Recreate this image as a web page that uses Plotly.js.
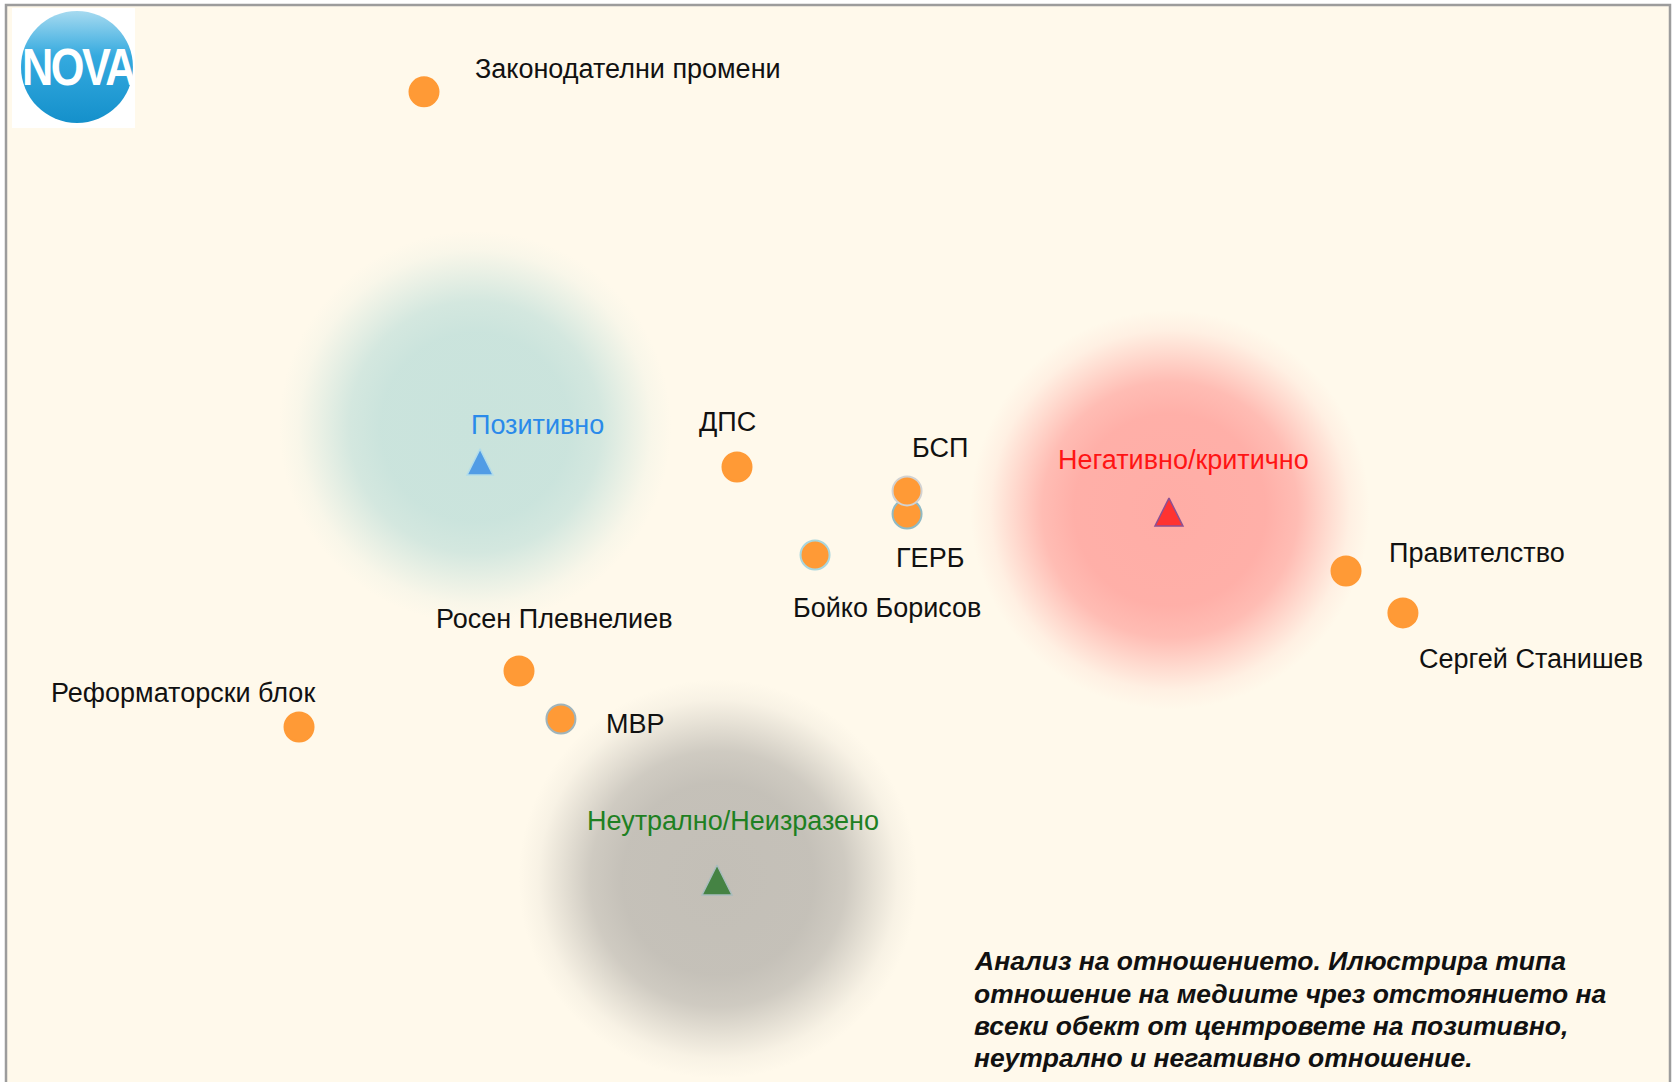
<!DOCTYPE html>
<html>
<head>
<meta charset="utf-8">
<script src="https://cdn.plot.ly/plotly-3.0.1.min.js"></script>
<style>html,body{margin:0;padding:0;background:#fff;}#chart{width:1675px;height:1082px;}</style>
</head>
<body>
<div id="chart"></div>
<script>
// ---- data (map units; x 0..100, y 0..64.72, equal scale) ----
const objectNames = ['Законодателни промени','ДПС','ГЕРБ','БСП','Бойко Борисов','Правителство','Сергей Станишев','Росен Плевнелиев','МВР','Реформаторски блок'];
const objectX = [25.12, 43.93, 54.15, 54.15, 48.62, 80.53, 83.95, 30.83, 33.35, 17.61];
const objectY = [59.50, 36.96, 34.13, 35.52, 31.67, 30.71, 28.19, 24.70, 21.81, 21.33];

const centerNames = ['Позитивно','Негативно/критично','Неутрално/Неизразено'];
const centerX = [28.49, 69.89, 42.73];
const centerY = [37.26, 34.25, 12.14];

const zoneX = [28.19, 69.95, 42.79];
const zoneY = [39.36, 34.38, 12.20];
const zoneR = [11.8, 12.0, 12.0];

const noteLines = ['Анализ на отношението. Илюстрира типа','отношение на медиите чрез отстоянието на','всеки обект от центровете на позитивно,','неутрално и негативно отношение.'];

// ---- styles ----
const ORANGE = '#FF9A36';
const objLine = [ORANGE, ORANGE, '#8FBAC4', '#D2D2D2', '#A9D6DE', ORANGE, ORANGE, ORANGE, '#9FB4BC', ORANGE];
const objLabelStyle = [
  {a:'left', dx:49, dy:23}, {a:'center', dx:-10, dy:45}, {a:'center', dx:23, dy:-44},
  {a:'center', dx:33, dy:43}, {a:'center', dx:72, dy:-53}, {a:'left', dx:41, dy:18},
  {a:'left', dx:14, dy:-46}, {a:'center', dx:35, dy:52}, {a:'left', dx:43, dy:-5},
  {a:'center', dx:-116, dy:34}
];
const centerFill = ['#1F7FEA', '#FF0000', '#106A14'];
const centerLine = ['#A8DAF0', '#5E2A8C', '#9FBCC2'];
const centerSize = [26, 28, 30];
const centerText = ['#2A8AEA', '#FF1414', '#1E8022'];
const centerLabelStyle = [{dx:57, dy:37}, {dx:15, dy:52}, {dx:16, dy:59}];
const zoneColor = ['#C9E3DC', '#FFADA6', '#C3BFB7'];

const FONT = 'Liberation Sans, Arial, sans-serif';

function blobSvg(c){
  const s = "<svg xmlns='http://www.w3.org/2000/svg' width='400' height='400'><defs><radialGradient id='g' cx='0.5' cy='0.5' r='0.5'>" +
    "<stop offset='0' stop-color='"+c+"' stop-opacity='1'/>" +
    "<stop offset='0.48' stop-color='"+c+"' stop-opacity='0.97'/>" +
    "<stop offset='0.64' stop-color='"+c+"' stop-opacity='0.8'/>" +
    "<stop offset='0.79' stop-color='"+c+"' stop-opacity='0.4'/>" +
    "<stop offset='0.9' stop-color='"+c+"' stop-opacity='0.12'/>" +
    "<stop offset='1' stop-color='"+c+"' stop-opacity='0'/>" +
    "</radialGradient></defs><circle cx='200' cy='200' r='200' fill='url(#g)'/></svg>";
  return 'data:image/svg+xml;charset=utf-8,' + encodeURIComponent(s);
}
function logoSvg(){
  const s = "<svg xmlns='http://www.w3.org/2000/svg' width='123' height='120' viewBox='0 0 123 120'>" +
    "<defs><linearGradient id='b' x1='0' y1='0' x2='0' y2='1'><stop offset='0' stop-color='#A6DAF0'/><stop offset='0.4' stop-color='#35AADF'/><stop offset='1' stop-color='#1490CB'/></linearGradient></defs>" +
    "<rect width='123' height='120' fill='#ffffff'/>" +
    "<circle cx='65' cy='59' r='56' fill='url(#b)'/>" +
    "<text x='66' y='77' font-family='Liberation Sans, Arial, sans-serif' font-weight='bold' font-size='52' fill='#ffffff' text-anchor='middle' textLength='112' lengthAdjust='spacingAndGlyphs' letter-spacing='-3'>NOVA</text>" +
    "</svg>";
  return 'data:image/svg+xml;charset=utf-8,' + encodeURIComponent(s);
}

const traces = [
  {
    type:'scatter', mode:'markers', x: objectX, y: objectY, text: objectNames, hoverinfo:'text',
    marker:{size:29, color:ORANGE, line:{color:objLine, width:2}}
  },
  {
    type:'scatter', mode:'markers', x: centerX, y: centerY, text: centerNames, hoverinfo:'text',
    marker:{symbol:'arrow-down', angle:180, standoff:centerSize.map(s=>s/2), size:centerSize, color:centerFill, line:{color:centerLine, width:1.5}}
  }
];

const annotations = [];
objectNames.forEach((n,i)=>{
  const st = objLabelStyle[i];
  annotations.push({x:objectX[i], y:objectY[i], xref:'x', yref:'y', text:n, showarrow:false,
    xanchor:st.a, yanchor:'middle', xshift:st.dx, yshift:st.dy,
    font:{family:FONT, size:27, color:'#111111'}});
});
centerNames.forEach((n,i)=>{
  const st = centerLabelStyle[i];
  annotations.push({x:centerX[i], y:centerY[i], xref:'x', yref:'y', text:n, showarrow:false,
    xanchor:'center', yanchor:'middle', xshift:st.dx, yshift:st.dy,
    font:{family:FONT, size:27, color:centerText[i]}});
});
const noteY = [0.1124, 0.0817, 0.0520, 0.0223];
noteLines.forEach((t,i)=>{
  annotations.push({x:0.5805, y:noteY[i], xref:'paper', yref:'paper', text:'<b><i>'+t+'</i></b>', showarrow:false,
    xanchor:'left', yanchor:'middle',
    font:{family:FONT, size:26.5, color:'#111111'}});
});

const images = zoneX.map((x,i)=>({
  source: blobSvg(zoneColor[i]), xref:'x', yref:'y', x:x, y:zoneY[i],
  sizex: 2*zoneR[i], sizey: 2*zoneR[i], xanchor:'center', yanchor:'middle',
  sizing:'stretch', layer:'below', opacity:1
}));
images.push({source: logoSvg(), xref:'paper', yref:'paper', x:0.0036, y:0.9972, sizex:0.0739, sizey:0.1114,
  xanchor:'left', yanchor:'top', sizing:'stretch', layer:'above'});

const layout = {
  width:1675, height:1082,
  margin:{l:6, r:5, t:5, b:0, pad:0},
  paper_bgcolor:'#ffffff', plot_bgcolor:'#FFF9EB',
  showlegend:false,
  xaxis:{range:[0,100], visible:false, fixedrange:true},
  yaxis:{range:[0,64.72], visible:false, fixedrange:true},
  images: images,
  annotations: annotations,
  shapes:[{type:'rect', xref:'paper', yref:'paper', x0:0, x1:1, y0:-0.05, y1:1, line:{color:'#9C9C9C', width:2.5}, fillcolor:'rgba(0,0,0,0)', layer:'above'}],
  hovermode:'closest'
};

Plotly.newPlot('chart', traces, layout, {displayModeBar:false, staticPlot:true});
</script>
</body>
</html>
